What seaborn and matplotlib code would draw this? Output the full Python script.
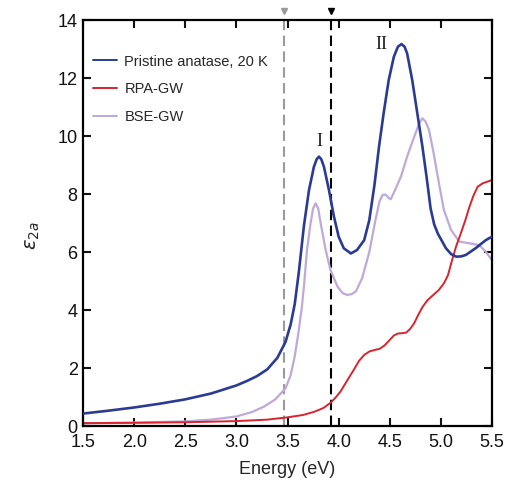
import matplotlib
matplotlib.use("Agg")
import matplotlib.pyplot as plt
import matplotlib.transforms as mtransforms
import pandas as pd
import seaborn as sns

# Measured spectrum: pristine anatase at 20 K
exp_energy = [1.5, 1.75, 2.0, 2.25, 2.5, 2.75, 3.0, 3.1, 3.2, 3.3, 3.4, 3.48, 3.53,
              3.57, 3.61, 3.66, 3.71, 3.758, 3.785, 3.807, 3.83, 3.856, 3.905, 3.954,
              4.0, 4.05, 4.12, 4.18, 4.25, 4.30, 4.35, 4.395, 4.44, 4.49, 4.54, 4.58,
              4.615, 4.645, 4.67, 4.72, 4.77, 4.82, 4.86, 4.90, 4.935, 4.97, 5.05, 5.10,
              5.15, 5.20, 5.245, 5.34, 5.44, 5.5]
exp_eps2 = [0.43, 0.53, 0.64, 0.77, 0.92, 1.12, 1.4, 1.55, 1.72, 1.95, 2.35, 2.9, 3.5,
            4.2, 5.3, 6.9, 8.14, 8.94, 9.2, 9.29, 9.2, 8.94, 8.14, 7.22,
            6.53, 6.13, 5.95, 6.07, 6.41, 7.1, 8.3, 9.63, 10.78, 11.93, 12.73, 13.08,
            13.17, 13.08, 12.85, 11.93, 10.78, 9.63, 8.6, 7.5, 6.95, 6.64, 6.13, 5.93,
            5.84, 5.85, 5.9, 6.13, 6.41, 6.53]

# RPA on top of GW
rpa_energy = [1.5, 2.0, 2.5, 3.0, 3.3, 3.5, 3.65, 3.76, 3.85, 3.92, 3.97, 4.02, 4.08,
              4.15, 4.2, 4.25, 4.3, 4.35, 4.4, 4.45, 4.5, 4.54, 4.58, 4.62, 4.66,
              4.7, 4.74, 4.77, 4.82, 4.87, 4.92, 4.98, 5.03, 5.07, 5.11, 5.15, 5.195,
              5.24, 5.28, 5.32, 5.36, 5.41, 5.45, 5.5]
rpa_eps2 = [0.1, 0.11, 0.13, 0.17, 0.22, 0.3, 0.38, 0.49, 0.62, 0.8, 0.98, 1.2, 1.55,
            1.95, 2.25, 2.45, 2.57, 2.62, 2.66, 2.78, 2.97, 3.12, 3.19, 3.2, 3.22,
            3.35, 3.55, 3.77, 4.1, 4.34, 4.5, 4.69, 4.92, 5.2, 5.72, 6.2, 6.64,
            7.1, 7.56, 7.95, 8.25, 8.37, 8.42, 8.48]

# BSE on top of GW
bse_energy = [1.5, 2.0, 2.5, 2.75, 3.0, 3.15, 3.27, 3.38, 3.48, 3.53, 3.57, 3.61, 3.64,
              3.66, 3.69, 3.725, 3.75, 3.775, 3.80, 3.824, 3.873, 3.92, 3.99, 4.04,
              4.085, 4.13, 4.17, 4.23, 4.30, 4.36, 4.40, 4.43, 4.46, 4.49, 4.51, 4.56,
              4.61, 4.67, 4.74, 4.79, 4.82, 4.85, 4.885, 4.93, 4.98, 5.03, 5.10, 5.18,
              5.28, 5.375, 5.44, 5.5]
bse_eps2 = [0.09, 0.12, 0.16, 0.22, 0.33, 0.48, 0.67, 0.92, 1.3, 1.75, 2.4, 3.3, 4.11,
            4.8, 6.07, 6.99, 7.5, 7.68, 7.5, 6.99, 6.07, 5.38, 4.8, 4.58,
            4.52, 4.55, 4.65, 5.1, 6.0, 7.1, 7.75, 7.97, 7.98, 7.86, 7.82, 8.2,
            8.6, 9.29, 9.98, 10.45, 10.61, 10.5, 10.2, 9.4, 8.4, 7.45, 6.76, 6.36,
            6.3, 6.24, 6.01, 5.72]

series_labels = ["Pristine anatase, 20 K", "RPA-GW", "BSE-GW"]
series_colors = ["#2B3B93", "#D9232E", "#BEA9D8"]

# Reference energies marked by dashed lines and top triangles
marker_energies = [3.47, 3.93]
marker_colors = ["#9A9A9A", "#000000"]

xticks = [1.5, 2.0, 2.5, 3.0, 3.5, 4.0, 4.5, 5.0, 5.5]
yticks = [0, 2, 4, 6, 8, 10, 12, 14]

df = pd.concat([
    pd.DataFrame({"Energy": exp_energy, "eps": exp_eps2, "series": series_labels[0]}),
    pd.DataFrame({"Energy": rpa_energy, "eps": rpa_eps2, "series": series_labels[1]}),
    pd.DataFrame({"Energy": bse_energy, "eps": bse_eps2, "series": series_labels[2]}),
], ignore_index=True)

sns.set_style("ticks")
plt.rcParams["font.family"] = ["Liberation Sans", "DejaVu Sans"]
plt.rcParams["mathtext.fontset"] = "dejavusans"

fig = plt.figure(figsize=(5.2, 4.88), dpi=100)
ax = fig.add_axes([0.160, 0.127, 0.786, 0.832])

widths = {series_labels[0]: 1.9, series_labels[1]: 1.4, series_labels[2]: 1.6}
handles = {}
for lbl in [series_labels[2], series_labels[1], series_labels[0]]:
    sub = df[df["series"] == lbl]
    sns.lineplot(data=sub, x="Energy", y="eps", ax=ax, sort=False, estimator=None,
                 color=series_colors[series_labels.index(lbl)], lw=widths[lbl],
                 legend=False, zorder=3 if lbl == series_labels[0] else 2)
    line = ax.lines[-1]
    line.set_solid_joinstyle("round")
    handles[lbl] = line

trans = mtransforms.blended_transform_factory(ax.transData, ax.transAxes)
for e, c in zip(marker_energies, marker_colors):
    ax.axvline(e, color=c, lw=1.5, linestyle=(0, (5, 2.6)), zorder=1)
    ax.plot([e], [1.021], marker="v", color=c, markersize=4.5, transform=trans,
            clip_on=False, zorder=5)

ax.text(3.81, 9.8, "I", family=["Liberation Serif"], fontsize=13,
        ha="center", va="center", color="#222222")
ax.text(4.42, 13.17, "II", family=["Liberation Serif"], fontsize=13,
        ha="center", va="center", color="#222222")

ax.set_xlim(1.5, 5.5)
ax.set_ylim(0, 14)
ax.set_xticks(xticks)
ax.set_xticklabels([f"{t:.1f}" for t in xticks])
ax.set_yticks(yticks)
ax.set_yticklabels([str(t) for t in yticks])
ax.tick_params(direction="in", length=6, width=1.5, top=True, right=True,
               labelsize=13, colors="#111111", pad=4)
ax.tick_params(axis="x", labeltop=False, pad=6)
ax.tick_params(axis="y", labelright=False)
for s in ax.spines.values():
    s.set_linewidth(1.6)
    s.set_color("black")

ax.set_xlabel("Energy (eV)", fontsize=13, labelpad=7)
ax.set_ylabel(r"$\varepsilon_{2a}$", fontsize=14)
ax.yaxis.set_label_coords(-0.10, 0.47)

leg = ax.legend([handles[l] for l in series_labels], series_labels, loc="upper left",
                bbox_to_anchor=(0.024, 0.915), frameon=False, fontsize=10.5,
                handlelength=1.65, handletextpad=0.5, labelspacing=0.95,
                borderpad=0, borderaxespad=0)
for h in leg.legend_handles:
    h.set_linewidth(1.4)

fig.savefig("out.png", dpi=100, facecolor="white")
